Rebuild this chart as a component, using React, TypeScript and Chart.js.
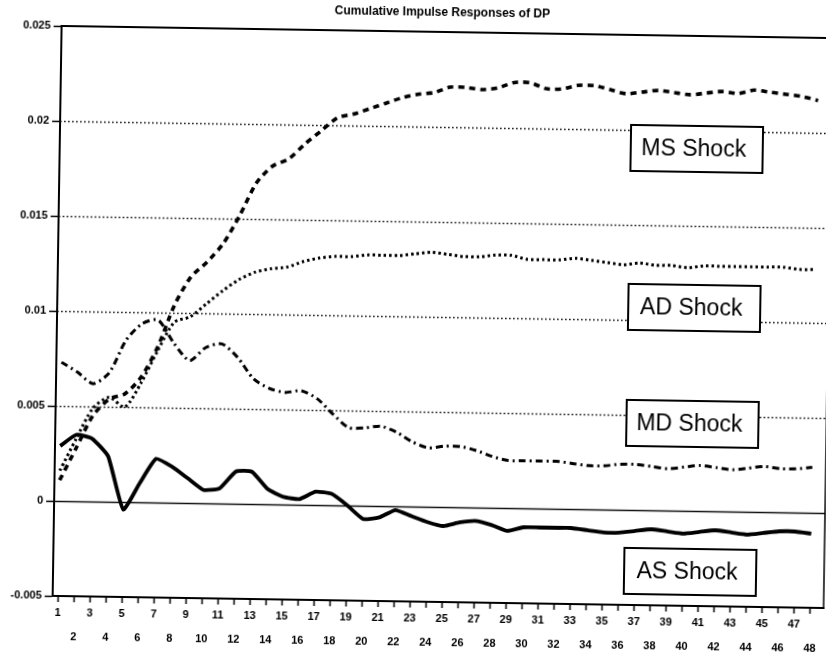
import React, { useEffect, useRef } from "react";
import { Chart, registerables } from "chart.js";

Chart.register(...registerables);

const chartTitle = "Cumulative Impulse Responses of DP";

const steps = [
  1, 2, 3, 4, 5, 6, 7, 8, 9, 10, 11, 12, 13, 14, 15, 16, 17, 18, 19, 20, 21, 22, 23, 24,
  25, 26, 27, 28, 29, 30, 31, 32, 33, 34, 35, 36, 37, 38, 39, 40, 41, 42, 43, 44, 45, 46, 47, 48,
];

const msShock = [
  0.0011, 0.0028, 0.0045, 0.0054, 0.0057, 0.0066, 0.0082, 0.0104, 0.0119, 0.0127, 0.0137, 0.0152,
  0.0169, 0.0178, 0.0182, 0.019, 0.0197, 0.0204, 0.0206, 0.0209, 0.0212, 0.0215, 0.0217, 0.0218,
  0.0221, 0.0221, 0.022, 0.0221, 0.0224, 0.0224, 0.0221, 0.0221, 0.0223, 0.0223, 0.0221, 0.0219,
  0.022, 0.0221, 0.022, 0.0219, 0.022, 0.0221, 0.022, 0.0222, 0.0221, 0.022, 0.0219, 0.0217,
];

const adShock = [
  0.0016, 0.0033, 0.0049, 0.0055, 0.005, 0.0063, 0.008, 0.0095, 0.0098, 0.0105, 0.0112, 0.0118,
  0.0122, 0.0124, 0.0125, 0.0128, 0.013, 0.0131, 0.0131, 0.0132, 0.0132, 0.0132, 0.0133, 0.0134,
  0.0133, 0.0132, 0.0132, 0.0133, 0.0133, 0.0131, 0.0131, 0.0131, 0.0132, 0.0131, 0.013, 0.0129,
  0.013, 0.0129, 0.0129, 0.0128, 0.0129, 0.0129, 0.0129, 0.0129, 0.0129, 0.0129, 0.0128, 0.0128,
];

const mdShock = [
  0.0073, 0.0068, 0.0062, 0.0068, 0.0085, 0.0094, 0.0096, 0.0084, 0.0075, 0.0082, 0.0084, 0.0077,
  0.0066, 0.0061, 0.0059, 0.006, 0.0056, 0.0048, 0.0041, 0.0041, 0.0042, 0.0039, 0.0034, 0.0031,
  0.0032, 0.0032, 0.003, 0.0027, 0.0025, 0.0025, 0.0025, 0.0025, 0.0024, 0.0023, 0.0023, 0.0024,
  0.0024, 0.0023, 0.0022, 0.0023, 0.0024, 0.0023, 0.0022, 0.0023, 0.0024, 0.0023, 0.0023, 0.0024,
];

const asShock = [
  0.0029, 0.0035, 0.0033, 0.0024, -0.0004, 0.001, 0.0023, 0.0019, 0.0013, 0.0007, 0.0008, 0.0017,
  0.0017, 0.0008, 0.0004, 0.0003, 0.0007, 0.0006, 0.0, -0.0007, -0.0006, -0.0002, -0.0005, -0.0008,
  -0.001, -0.0008, -0.0007, -0.0009, -0.0012, -0.001, -0.001, -0.001, -0.001, -0.0011, -0.0012, -0.0012,
  -0.0011, -0.001, -0.0011, -0.0012, -0.0011, -0.001, -0.0011, -0.0012, -0.0011, -0.001, -0.001, -0.0011,
];

const yTicks = [-0.005, 0, 0.005, 0.01, 0.015, 0.02, 0.025];
const yTickLabels = ["-0.005", "0", "0.005", "0.01", "0.015", "0.02", "0.025"];

const shockNames = ["MS Shock", "AD Shock", "MD Shock", "AS Shock"];

// label box anchors in data units (step, value)
const boxAnchorStep = 40.5;
const boxAnchorValues = [0.01906, 0.0107, 0.00458, -0.0032];

const FONT = "'Liberation Sans', Arial, Helvetica, sans-serif";

const framePlugin = {
  id: "frameAndGrid",
  beforeDatasetsDraw(chart: any) {
    const { ctx, chartArea } = chart;
    const ys = chart.scales.y;
    ctx.save();
    yTicks.forEach((v) => {
      if (v === yTicks[0] || v === yTicks[yTicks.length - 1]) return;
      const py = Math.round(ys.getPixelForValue(v)) + 0.5;
      ctx.beginPath();
      ctx.strokeStyle = "#111";
      if (v === 0) {
        ctx.setLineDash([]);
        ctx.lineWidth = 1.6;
      } else {
        ctx.setLineDash([1.6, 2.4]);
        ctx.lineWidth = 1.4;
      }
      ctx.moveTo(chartArea.left, py);
      ctx.lineTo(chartArea.right, py);
      ctx.stroke();
    });
    ctx.setLineDash([]);
    ctx.strokeStyle = "#000";
    ctx.lineWidth = 2;
    ctx.beginPath();
    ctx.moveTo(chartArea.left, chartArea.top);
    ctx.lineTo(chartArea.right, chartArea.top);
    ctx.stroke();
    ctx.lineWidth = 1.5;
    ctx.beginPath();
    ctx.moveTo(chartArea.right, chartArea.top);
    ctx.lineTo(chartArea.right, chartArea.bottom);
    ctx.stroke();
    ctx.restore();
  },
  afterDatasetsDraw(chart: any) {
    const { ctx, chartArea } = chart;
    const xs = chart.scales.x;
    const ys = chart.scales.y;
    ctx.save();
    // title
    ctx.fillStyle = "#000";
    ctx.font = `bold 12px ${FONT}`;
    ctx.textAlign = "center";
    ctx.textBaseline = "middle";
    ctx.fillText(chartTitle, (chartArea.left + chartArea.right) / 2 - 5, 6);
    // label boxes
    const w = 132;
    const h = 46;
    shockNames.forEach((name, i) => {
      const cx = xs.getPixelForValue(boxAnchorStep);
      const cy = ys.getPixelForValue(boxAnchorValues[i]);
      const x0 = Math.round(cx - w / 2);
      const y0 = Math.round(cy - h / 2);
      ctx.fillStyle = "#fff";
      ctx.fillRect(x0, y0, w, h);
      ctx.strokeStyle = "#000";
      ctx.lineWidth = 2;
      ctx.strokeRect(x0, y0, w, h);
      ctx.fillStyle = "#000";
      ctx.font = `23px ${FONT}`;
      ctx.textAlign = "center";
      ctx.textBaseline = "middle";
      ctx.fillText(name, x0 + w / 2 - 3, y0 + h / 2 + 1);
    });
    ctx.restore();
  },
};

export default function App() {
  const canvasRef = useRef<HTMLCanvasElement | null>(null);

  useEffect(() => {
    if (!canvasRef.current) return;
    const toPoints = (vals: number[]) => steps.map((s, i) => ({ x: s, y: vals[i] }));
    const common = {
      pointRadius: 0,
      pointHoverRadius: 0,
      fill: false,
      tension: 0.25,
      borderColor: "#000",
      borderCapStyle: "butt" as const,
    };
    const chart = new Chart(canvasRef.current, {
      type: "line",
      data: {
        datasets: [
          { ...common, label: shockNames[0], data: toPoints(msShock), borderWidth: 3.6, borderDash: [6, 5] },
          { ...common, label: shockNames[1], data: toPoints(adShock), borderWidth: 3, borderDash: [2.5, 3] },
          { ...common, label: shockNames[2], data: toPoints(mdShock), borderWidth: 3, borderDash: [7, 4, 2, 4] },
          { ...common, label: shockNames[3], data: toPoints(asShock), borderWidth: 3.8, tension: 0.15 },
        ],
      },
      options: {
        responsive: false,
        devicePixelRatio: 1,
        animation: false,
        events: [],
        layout: { padding: { top: 25, right: 17, left: 0, bottom: 0 } },
        plugins: {
          legend: { display: false },
          title: { display: false },
          tooltip: { enabled: false },
        },
        scales: {
          x: {
            type: "linear",
            min: 0.675,
            max: 48.84,
            afterBuildTicks: (scale: any) => {
              scale.ticks = steps.map((v) => ({ value: v }));
            },
            afterFit: (scale: any) => {
              scale.height = 75;
            },
            ticks: {
              autoSkip: false,
              maxRotation: 0,
              minRotation: 0,
              padding: -1,
              color: "#000",
              font: { family: FONT, size: 11, weight: "bold", lineHeight: 24 / 11 },
              callback: (v: any) => {
                const n = Number(v);
                return n % 2 === 1 ? [String(n), ""] : ["", String(n)];
              },
            },
            grid: {
              drawOnChartArea: false,
              drawTicks: true,
              tickLength: 6,
              tickWidth: 1.5,
              tickColor: "#000",
            },
            border: { display: true, color: "#000", width: 2 },
          },
          y: {
            type: "linear",
            min: -0.005,
            max: 0.025,
            afterBuildTicks: (scale: any) => {
              scale.ticks = yTicks.map((v) => ({ value: v }));
            },
            afterFit: (scale: any) => {
              scale.width = 62;
            },
            ticks: {
              padding: 3,
              color: "#000",
              font: { family: FONT, size: 11, weight: "bold" },
              callback: (_v: any, i: number) => yTickLabels[i],
            },
            grid: {
              drawOnChartArea: false,
              drawTicks: true,
              tickLength: 8,
              tickWidth: 1.5,
              tickColor: "#000",
            },
            border: { display: true, color: "#000", width: 2 },
          },
        },
      },
      plugins: [framePlugin],
    } as any);
    return () => chart.destroy();
  }, []);

  return (
    <div
      style={{
        position: "absolute",
        left: 0,
        top: 0,
        width: 826,
        height: 658,
        overflow: "hidden",
        background: "#fff",
      }}
    >
      <canvas
        ref={canvasRef}
        width={850}
        height={670}
        style={{
          position: "absolute",
          left: 0,
          top: 0,
          display: "block",
          transform: "rotate(0.9deg)",
          transformOrigin: "0 0",
        }}
      />
    </div>
  );
}
